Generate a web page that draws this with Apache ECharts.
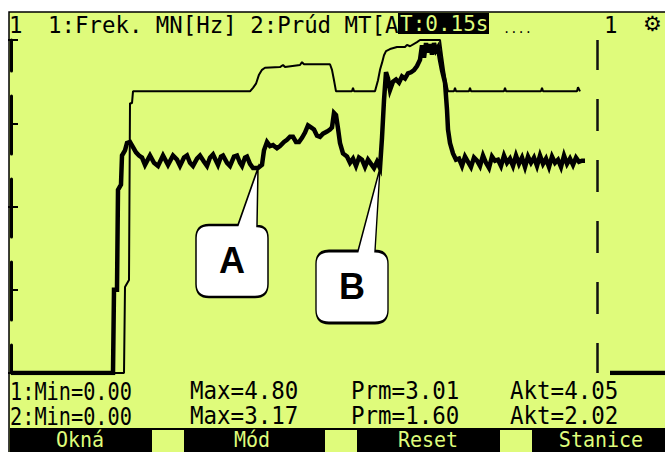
<!DOCTYPE html>
<html><head><meta charset="utf-8">
<script src="https://cdn.jsdelivr.net/npm/echarts@6/dist/echarts.min.js"></script>
<style>html,body{margin:0;padding:0;background:#fff;}#c{width:665px;height:452px;}</style>
</head><body><div id="c"></div>
<script>
// ---- data ----
const frekTime = [0,11.0,11.3,11.4,11.8,11.9,12.1,12.2,23.9,24.2,24.5,24.8,25.1,25.4,26.9,27.2,27.4,28.9,29.1,29.3,31.9,32.1,32.3,32.5,34.1,34.2,34.3,36.4,36.7,36.9,37.1,37.3,37.5,37.9,38.6,39.4,39.6,39.9,40.6,40.9,42.9,43.1,43.3,43.5,43.7,44.3,44.4,44.5,45.8,45.9,46.0,49.3,49.4,49.5,53.0,53.1,53.2,56.6,56.7,56.9];
const frekValues = [0,0,0,1.24,1.34,3.89,3.89,4.06,4.06,4.11,4.17,4.30,4.37,4.40,4.41,4.44,4.41,4.44,4.48,4.45,4.45,4.37,4.22,4.06,4.06,4.11,4.06,4.06,4.22,4.37,4.47,4.58,4.64,4.67,4.70,4.70,4.73,4.71,4.77,4.80,4.80,4.58,4.37,4.19,4.06,4.06,4.11,4.06,4.06,4.11,4.06,4.06,4.11,4.06,4.06,4.11,4.06,4.06,4.12,4.06];
const prudTime = [0,10.2,10.3,10.6,10.7,11.0,11.1,11.4,11.6,11.9,12.2,12.5,12.8,13.1,13.4,13.9,14.3,14.7,15.2,15.7,16.2,16.6,16.9,17.3,17.6,17.9,18.2,18.6,18.9,19.3,19.6,19.9,20.2,20.5,20.7,21.0,21.2,21.6,21.9,22.3,22.6,22.9,23.1,23.4,23.6,23.9,24.2,24.7,25.1,25.3,25.6,25.9,26.2,26.6,26.9,27.3,27.6,27.9,28.2,28.5,28.8,29.1,29.4,29.7,30.0,30.3,30.6,30.9,31.2,31.6,31.9,32.1,32.3,32.5,32.7,32.9,33.2,33.6,33.9,34.2,34.5,34.8,35.1,35.4,35.7,36.0,36.3,36.6,36.9,37.1,37.3,37.5,37.7,37.9,38.2,38.5,38.8,39.1,39.4,39.7,40.0,40.3,40.6,40.9,41.1,41.3,41.5,41.7,41.9,42.1,42.3,42.5,42.7,42.9,43.1,43.4,43.6,43.7,43.9,44.2,44.5,44.8,45.1,45.4,45.7,46.0,46.3,46.6,46.9,47.2,47.5,47.8,48.1,48.4,48.7,49.0,49.3,49.6,49.9,50.2,50.5,50.8,51.1,51.4,51.7,52.0,52.3,52.6,52.9,53.2,53.5,53.8,54.1,54.4,54.7,55.0,55.3,55.6,55.9,56.2,56.5,56.8,57.1,57.4,58.0,59.9,65.4];
const prudValues = [0,0,0.80,0.80,1.76,1.81,2.09,2.14,2.21,2.22,2.17,2.12,2.09,2.07,2.00,2.09,2.02,1.99,2.09,2.00,2.09,2.05,1.99,2.07,2.09,2.02,1.99,2.06,2.09,2.03,1.99,2.07,2.10,2.04,2.00,2.08,2.09,2.02,1.99,2.08,2.09,2.02,1.99,2.07,2.08,2.01,1.97,1.97,2.00,2.14,2.22,2.18,2.19,2.16,2.18,2.22,2.24,2.27,2.27,2.22,2.22,2.26,2.31,2.38,2.36,2.34,2.28,2.27,2.30,2.32,2.34,2.36,2.50,2.48,2.35,2.21,2.11,2.08,2.02,2.06,1.99,2.07,2.05,1.98,2.05,2.01,1.97,2.03,1.97,2.26,2.62,2.89,2.83,2.72,2.80,2.82,2.79,2.85,2.83,2.88,2.89,2.91,2.95,3.01,3.15,3.03,3.17,3.08,3.16,3.06,3.17,3.10,3.13,3.01,2.91,2.79,2.53,2.34,2.21,2.11,2.05,2.06,1.99,2.08,2.03,1.98,2.07,2.04,1.99,2.09,2.02,1.97,2.08,2.04,2.05,1.99,2.09,2.02,2.06,1.99,2.09,2.01,2.07,1.98,2.08,2.02,2.07,1.99,2.09,2.01,2.06,1.98,2.08,2.02,2.05,1.98,2.09,2.01,2.06,2.00,2.07,2.03,2.04,2.04,null,0,0];
const cursorTime = 58.6;
const calloutLabels = ['A', 'B'];
const calloutTime = [24.7, 36.9];
const calloutValue = [1.97, 1.97];
const frekMax = 4.8, frekStep = 1.2;
const prudMax = 3.2, prudStep = 1.6;
const timeMax = 65.4;
const headerChannel = '1';
const headerTitle = '1:Frek. MN[Hz] 2:Prúd MT[A';
const headerTime = 'T:0.15s';
const headerDots = '....';
const headerPage = '1';
const statRow1 = ['1:Min=0.00', 'Max=4.80', 'Prm=3.01', 'Akt=4.05'];
const statRow2 = ['2:Min=0.00', 'Max=3.17', 'Prm=1.60', 'Akt=2.02'];
const buttonLabels = ['Okná', 'Mód', 'Reset', 'Stanice'];

// ---- styling ----
const LCD = '#dffb7b';
const INK = '#000';
const MONO = '"DejaVu Sans Mono", "Liberation Mono", monospace';
const calloutShapes = [
  {path:'path://M42 57 L62 0 L61 58 Q72 58 72 70 L72 116 Q72 129 59 129 L13 129 Q0 129 0 116 L0 70 Q0 57 13 57 Z', size:[72,129], offset:[-26,64.5], label:[0,28.5]},
  {path:'path://M42 83 L64 0 L59 83 Q72 83 72 96 L72 142 Q72 155 59 155 L13 155 Q0 155 0 142 L0 96 Q0 83 13 83 Z', size:[72,155], offset:[-28,77.5], label:[0,41.5]}
];

function txt(text, x, y, opt) {
  opt = opt || {};
  return {
    type: 'text', x: x, y: y, z: 20,
    scaleX: opt.sx || 1, scaleY: opt.sy || 1,
    style: {
      text: text, x: 0, y: 0,
      font: (opt.weight || 'normal') + ' ' + (opt.size || 22) + 'px ' + (opt.family || MONO),
      fill: opt.fill || INK,
      align: opt.align || 'left', textAlign: opt.align || 'left',
      verticalAlign: 'middle', textVerticalAlign: 'middle'
    }
  };
}

const graphics = [];
graphics.push({type:'rect', z:-10, shape:{x:9, y:12, width:660, height:445}, style:{fill:LCD, stroke:INK, lineWidth:1.5}});
// header
graphics.push(txt(headerChannel, 9, 25, {size:22.4}));
graphics.push(txt(headerTitle, 48, 25, {size:22.4}));
graphics.push({type:'rect', z:19, shape:{x:398, y:13, width:91, height:21}, style:{fill:INK}});
graphics.push(txt(headerTime, 400, 24, {size:21, fill:LCD}));
graphics.push(txt(headerDots, 503, 29, {size:12}));
graphics.push(txt(headerPage, 604, 25, {size:22.4}));
graphics.push(txt('⚙', 643, 24, {size:21, family:'"DejaVu Sans", sans-serif'}));
// stats
const statX = [10, 190, 351, 510];
[statRow1, statRow2].forEach((row, r) => {
  row.forEach((s, i) => {
    graphics.push(txt(s, statX[i], r === 0 ? 391 : 416, {size:22.5, sy:1.1, sx: i === 0 ? 0.9 : 1}));
  });
});
// bottom button bar
graphics.push({type:'rect', z:18, shape:{x:10, y:428, width:655, height:24}, style:{fill:INK}});
[152, 325, 500].forEach(x => graphics.push({type:'rect', z:19, shape:{x:x, y:430, width:32, height:22}, style:{fill:LCD}}));
const buttonX = [80, 252, 428, 601];
buttonLabels.forEach((b, i) => graphics.push(txt(b, buttonX[i], 440, {size:20, sy:1.05, fill:LCD, align:'center'})));

const chart = echarts.init(document.getElementById('c'), null, {renderer:'svg'});
chart.setOption({
  animation: false,
  backgroundColor: '#fff',
  grid: {left:11, right:0, top:40, bottom:79},
  xAxis: {type:'value', min:0, max:timeMax, show:false},
  yAxis: [
    {type:'value', min:0, max:frekMax, interval:frekStep, position:'left',
     axisLine:{show:true, onZero:false, lineStyle:{color:INK, width:3, type:[58,25], dashOffset:30}},
     axisTick:{show:true, inside:true, length:7, lineStyle:{color:INK, width:2}},
     axisLabel:{show:false}, splitLine:{show:false}},
    {type:'value', min:0, max:prudMax, interval:prudStep, position:'right',
     axisLine:{show:false},
     axisTick:{show:true, inside:true, length:3, lineStyle:{color:INK, width:2}},
     axisLabel:{show:false}, splitLine:{show:false}}
  ],
  graphic: {elements: graphics},
  series: [
    {type:'line', name:'Frek. MN', yAxisIndex:0, symbol:'none', smooth:false,
     lineStyle:{color:INK, width:2}, z:3,
     data: frekTime.map((t, i) => [t, frekValues[i]]),
     markLine: {silent:true, symbol:'none', label:{show:false},
       lineStyle:{color:'#111', width:2.5, type:[32,29], dashOffset:2},
       data:[{xAxis: cursorTime}]}
    },
    {type:'line', name:'Prúd MT', yAxisIndex:1, symbol:'none', smooth:false, connectNulls:false,
     lineStyle:{color:INK, width:4.5, join:'miter'}, z:4,
     data: prudTime.map((t, i) => [t, prudValues[i]]),
     markPoint: {
       silent:true,
       itemStyle:{color:'#fff', borderColor:INK, borderWidth:2},
       label:{show:true, position:'inside', formatter:'{b}', color:INK, fontSize:36, fontWeight:'bold', fontFamily:'"Liberation Sans", Arial, sans-serif'},
       data: calloutLabels.map((l, i) => ({
         name: l, coord: [calloutTime[i], calloutValue[i]],
         symbol: calloutShapes[i].path, symbolSize: calloutShapes[i].size,
         symbolOffset: calloutShapes[i].offset,
         label: {offset: calloutShapes[i].label}
       }))
     }
    }
  ]
});
</script></body></html>
